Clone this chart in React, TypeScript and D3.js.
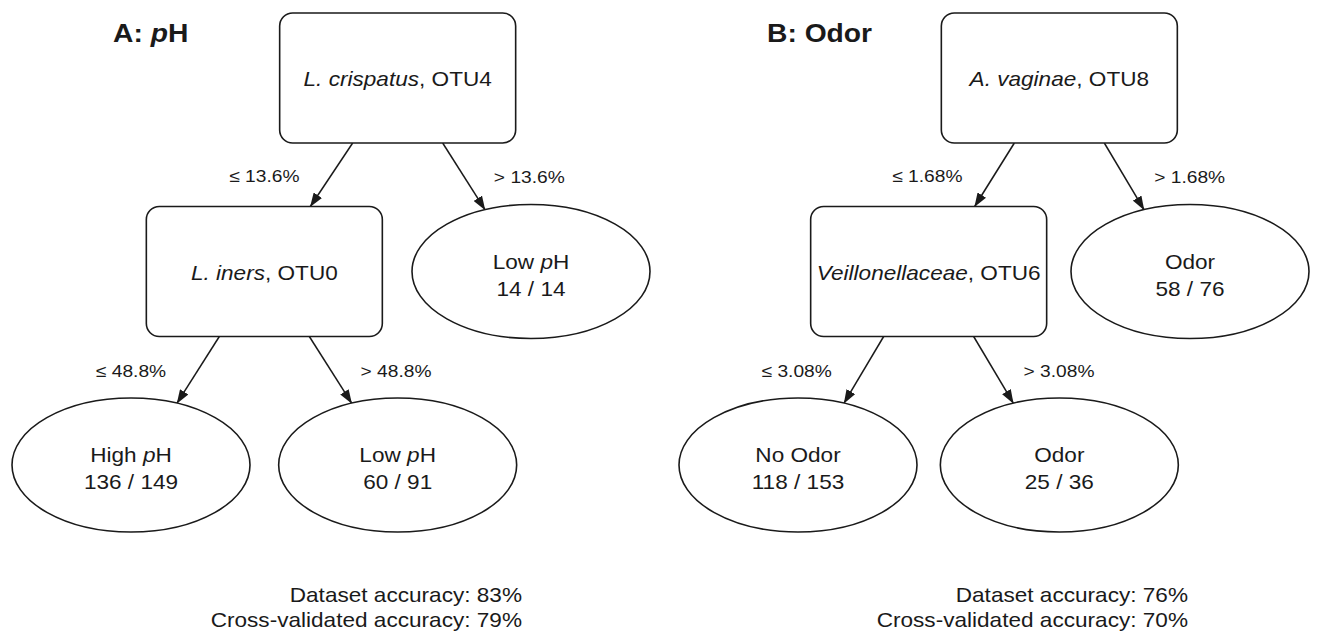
import * as d3 from "d3";
import { useEffect, useRef } from "react";

// two panels: A (pH) and B (Odor)
const panelLetters = ["A", "B"];
const panelOutcomes = ["pH", "Odor"];

// split nodes, root first then the second split
const splitTaxa = [
  ["L. crispatus", "L. iners"],
  ["A. vaginae", "Veillonellaceae"],
];
const splitOtus = [
  ["OTU4", "OTU0"],
  ["OTU8", "OTU6"],
];
const splitThresholds = [
  ["13.6%", "48.8%"],
  ["1.68%", "3.08%"],
];

// leaves: right of root, left of 2nd split, right of 2nd split
const leafClasses = [
  ["Low pH", "High pH", "Low pH"],
  ["Odor", "No Odor", "Odor"],
];
const leafCorrect = [
  [14, 136, 60],
  [58, 118, 25],
];
const leafTotal = [
  [14, 149, 91],
  [76, 153, 36],
];

const datasetAccuracy = [83, 76];
const cvAccuracy = [79, 70];

type Part = { t: string; it?: boolean };

type TreeDatum = {
  kind: "split" | "leaf";
  lines: Part[][];
  thr?: string;
  children?: TreeDatum[];
};

// italic "p" in pH
function phParts(s: string): Part[] {
  if (s.endsWith("pH")) {
    return [{ t: s.slice(0, -2) }, { t: "p", it: true }, { t: "H" }];
  }
  return [{ t: s }];
}

export default function App() {
  const ref = useRef<SVGSVGElement | null>(null);

  useEffect(() => {
    document.body.style.margin = "0";
    const el = ref.current;
    if (!el) return;

    const svg = d3.select(el);
    svg.selectAll("*").remove();

    const W = 1318;
    const H = 634;
    const SX = 1.13; // the source figure is a bit stretched horizontally
    const ink = "#1a1a1a";
    const font = "'Liberation Sans', Arial, Helvetica, sans-serif";
    const boxW = 236;
    const boxH = 130;
    const leafRx = 119;
    const leafRy = 67;
    const armDx = 45;

    const panelRange: [number, number][] = [
      [131, 531],
      [798, 1190],
    ];
    const titleX = [113, 767];
    const accRight = [522, 1188];

    const y = d3.scaleLinear().domain([0, 2]).range([78, 465]);

    const root = svg
      .attr("width", W)
      .attr("height", H)
      .attr("viewBox", `0 0 ${W} ${H}`)
      .attr("font-family", font)
      .style("display", "block")
      .style("background", "#ffffff");

    root
      .append("defs")
      .append("marker")
      .attr("id", "arrow")
      .attr("viewBox", "0 0 14 10")
      .attr("refX", 13.5)
      .attr("refY", 5)
      .attr("markerWidth", 14)
      .attr("markerHeight", 10)
      .attr("markerUnits", "userSpaceOnUse")
      .attr("orient", "auto")
      .append("path")
      .attr("d", "M0,0 L14,5 L0,10 Z")
      .attr("fill", ink);

    const rich = (
      g: d3.Selection<SVGGElement, unknown, null, undefined>,
      parts: Part[],
      x: number,
      yy: number,
      size: number,
      anchor: string,
      weight: string | null = null,
    ) => {
      const t = g
        .append("text")
        .attr("transform", `translate(${x},${yy}) scale(${SX},1)`)
        .attr("text-anchor", anchor)
        .attr("font-size", size)
        .attr("font-weight", weight)
        .attr("fill", ink)
        .style("white-space", "pre");
      parts.forEach((pt) =>
        t
          .append("tspan")
          .attr("font-style", pt.it ? "italic" : null)
          .text(pt.t),
      );
    };

    panelLetters.forEach((letter, p) => {
      const leaf = (i: number): TreeDatum => ({
        kind: "leaf",
        lines: [
          phParts(leafClasses[p][i]),
          [{ t: `${leafCorrect[p][i]} / ${leafTotal[p][i]}` }],
        ],
      });
      const split = (i: number, children: TreeDatum[]): TreeDatum => ({
        kind: "split",
        lines: [[{ t: splitTaxa[p][i], it: true }, { t: `, ${splitOtus[p][i]}` }]],
        thr: splitThresholds[p][i],
        children,
      });
      const data = split(0, [split(1, [leaf(1), leaf(2)]), leaf(0)]);

      const h = d3.hierarchy<TreeDatum>(data);
      d3.tree<TreeDatum>().nodeSize([1, 1])(h);
      const x = d3.scaleLinear().domain([-1, 0.5]).range(panelRange[p]);

      const g = root.append("g");

      // edges + threshold labels
      h.links().forEach((lk) => {
        const s = lk.source;
        const t = lk.target;
        const dir = t.x! < s.x! ? -1 : 1;
        const x0 = x(s.x!) + dir * armDx;
        const y0 = y(s.depth) + boxH / 2;
        const x1 = x(t.x!) - dir * (armDx + 1);
        const cy = y(t.depth);
        const y1 =
          t.data.kind === "split"
            ? cy - boxH / 2
            : cy - leafRy * Math.sqrt(1 - ((armDx + 1) / leafRx) ** 2);
        g.append("line")
          .attr("x1", x0)
          .attr("y1", y0)
          .attr("x2", x1)
          .attr("y2", y1)
          .attr("stroke", ink)
          .attr("stroke-width", 1.5)
          .attr("marker-end", "url(#arrow)");

        const mx = (x0 + x1) / 2;
        const my = (y0 + y1) / 2 + 7;
        const thr = s.data.thr ?? "";
        rich(
          g,
          [{ t: dir < 0 ? `≤ ${thr}` : `> ${thr}` }],
          dir < 0 ? mx - 32 : mx + 30,
          my,
          17,
          dir < 0 ? "end" : "start",
        );
      });

      // nodes
      h.descendants().forEach((n) => {
        const cx = x(n.x!);
        const cy = y(n.depth);
        if (n.data.kind === "split") {
          g.append("rect")
            .attr("x", cx - boxW / 2)
            .attr("y", cy - boxH / 2)
            .attr("width", boxW)
            .attr("height", boxH)
            .attr("rx", 13)
            .attr("fill", "#ffffff")
            .attr("stroke", ink)
            .attr("stroke-width", 1.6);
          rich(g, n.data.lines[0], cx, cy + 8, 20, "middle");
        } else {
          g.append("ellipse")
            .attr("cx", cx)
            .attr("cy", cy)
            .attr("rx", leafRx)
            .attr("ry", leafRy)
            .attr("fill", "#ffffff")
            .attr("stroke", ink)
            .attr("stroke-width", 1.6);
          rich(g, n.data.lines[0], cx, cy - 3, 20, "middle");
          rich(g, n.data.lines[1], cx, cy + 24, 20, "middle");
        }
      });

      // panel title
      rich(
        g,
        [{ t: `${letter}: ` }, ...phParts(panelOutcomes[p])],
        titleX[p],
        42,
        25,
        "start",
        "bold",
      );

      // accuracy footer
      rich(g, [{ t: `Dataset accuracy: ${datasetAccuracy[p]}%` }], accRight[p], 602, 20, "end");
      rich(g, [{ t: `Cross-validated accuracy: ${cvAccuracy[p]}%` }], accRight[p], 627, 20, "end");
    });
  }, []);

  return <svg ref={ref} />;
}
